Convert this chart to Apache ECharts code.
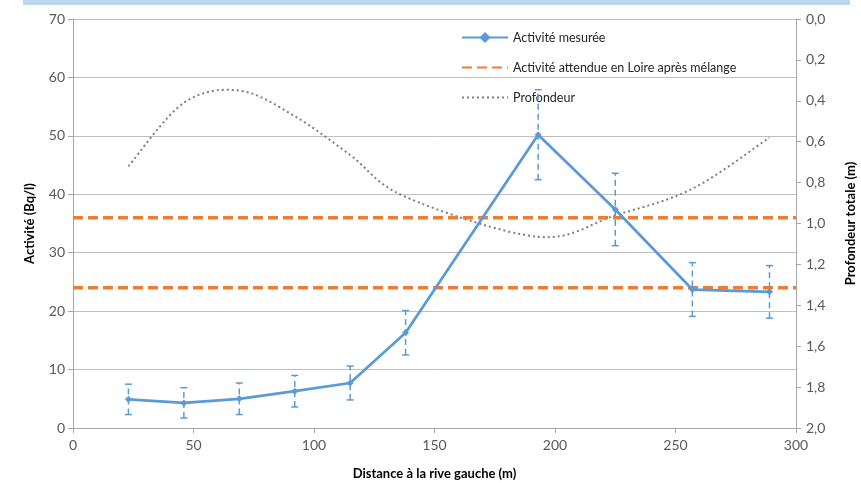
<!DOCTYPE html>
<html>
<head>
<meta charset="utf-8">
<script src="https://cdn.jsdelivr.net/npm/echarts@6/dist/echarts.min.js"></script>
<style>
html,body{margin:0;padding:0;background:#fff;}
#c{width:861px;height:483px;}
</style>
</head>
<body>
<div id="c"></div>
<script>
// ---- data ----
const distances = [23, 46, 69, 92, 115, 138, 193, 225, 257, 289];
const activity = [4.9, 4.3, 5.0, 6.3, 7.7, 16.3, 50.2, 37.4, 23.7, 23.3];
const activityErr = [2.6, 2.6, 2.7, 2.7, 2.9, 3.8, 7.7, 6.2, 4.6, 4.5];
const depth = [0.72, 0.41, 0.35, 0.475, 0.665, 0.87, 1.065, 0.96, 0.83, 0.58];
const expectedLevels = [36, 24];
const xRange = [0, 300];
const seriesNames = ['Activité mesurée', 'Activité attendue en Loire après mélange', 'Profondeur'];

// ---- build ----
const measured = distances.map((d, i) => [d, activity[i]]);
const errData = distances.map((d, i) => [d, activity[i] - activityErr[i], activity[i] + activityErr[i]]);
const expected = [];
expectedLevels.forEach((v, i) => {
  if (i > 0) expected.push([xRange[1], '-']);
  expected.push([xRange[0], v], [xRange[1], v]);
});
const depthData = distances.map((d, i) => [d, depth[i]]);

const BLUE = '#5B9BD5', ORANGE = '#ED7D31', GRAY = '#7F7F7F';
const FONT = 'Lato, "Liberation Sans", sans-serif';

// smoothed (Catmull-Rom style) path through the depth points, in pixel space from the axes
function smoothPath(pts) {
  let d = 'M' + pts[0][0] + ' ' + pts[0][1];
  for (let i = 0; i < pts.length - 1; i++) {
    const p0 = pts[Math.max(0, i - 1)], p1 = pts[i], p2 = pts[i + 1], p3 = pts[Math.min(pts.length - 1, i + 2)];
    const c1x = p1[0] + (p2[0] - p0[0]) / 6, c1y = p1[1] + (p2[1] - p0[1]) / 6;
    const c2x = p2[0] - (p3[0] - p1[0]) / 6, c2y = p2[1] - (p3[1] - p1[1]) / 6;
    d += ' C' + c1x + ' ' + c1y + ' ' + c2x + ' ' + c2y + ' ' + p2[0] + ' ' + p2[1];
  }
  return d;
}

const chart = echarts.init(document.getElementById('c'), null, {renderer: 'canvas'});
chart.setOption({
  animation: false,
  backgroundColor: '#fff',
  graphic: [{
    type: 'rect', left: 23, top: 0, shape: {width: 827, height: 5},
    style: {fill: '#BDD7EE'}, silent: true
  }],
  grid: {left: 73, right: 65, top: 19, bottom: 55, containLabel: false, outerBoundsMode: 'none'},
  legend: {
    orient: 'vertical', left: 456, top: 26, itemWidth: 46, itemHeight: 14, itemGap: 17,
    data: [
      {name: seriesNames[0]},
      {name: seriesNames[1], itemStyle: {opacity: 0}},
      {name: seriesNames[2], itemStyle: {opacity: 0}, lineStyle: {opacity: 1}}
    ],
    textStyle: {fontFamily: FONT, fontSize: 12.5, color: '#262626'}
  },
  xAxis: {
    type: 'value', min: 0, max: 300, interval: 50,
    name: 'Distance à la rive gauche (m)', nameLocation: 'middle', nameGap: 39,
    nameTextStyle: {fontFamily: FONT, fontWeight: 'bold', fontSize: 13, color: '#000'},
    axisLine: {show: true, onZero: false, lineStyle: {color: '#A6A6A6', width: 1}},
    axisTick: {show: true, length: 5, lineStyle: {color: '#A6A6A6'}},
    axisLabel: {fontFamily: FONT, fontSize: 14, color: '#595959', margin: 10},
    splitLine: {show: false}
  },
  yAxis: [{
    type: 'value', min: 0, max: 70, interval: 10,
    name: 'Activité (Bq/l)', nameLocation: 'middle', nameGap: 37,
    nameTextStyle: {fontFamily: FONT, fontWeight: 'bold', fontSize: 13, color: '#000'},
    axisLine: {show: true, lineStyle: {color: '#A6A6A6', width: 1}},
    axisTick: {show: true, length: 5, lineStyle: {color: '#A6A6A6'}},
    axisLabel: {fontFamily: FONT, fontSize: 14, color: '#595959', margin: 8},
    splitLine: {show: true, lineStyle: {color: '#BFBFBF', width: 1}}
  }, {
    type: 'value', min: 0, max: 2, interval: 0.2, inverse: true, position: 'right',
    name: 'Profondeur totale (m)', nameLocation: 'middle', nameGap: 48, nameRotate: 90,
    nameTextStyle: {fontFamily: FONT, fontWeight: 'bold', fontSize: 13, color: '#000'},
    axisLine: {show: true, lineStyle: {color: '#A6A6A6', width: 1}},
    axisTick: {show: true, length: 5, lineStyle: {color: '#A6A6A6'}},
    axisLabel: {fontFamily: FONT, fontSize: 14, color: '#595959', margin: 10,
      formatter: v => v.toFixed(1).replace('.', ',')},
    splitLine: {show: false}
  }],
  series: [{
    // legend entry + data holder for depth (line itself drawn smoothed by the custom series below)
    name: seriesNames[2], type: 'line', yAxisIndex: 1, data: depthData,
    symbol: 'none', silent: true,
    lineStyle: {color: GRAY, width: 2, type: [2, 3], opacity: 0},
    itemStyle: {color: GRAY}, z: 1
  }, {
    name: 'depthCurve', type: 'custom', yAxisIndex: 1, data: depthData, z: 2, silent: true,
    renderItem: function (params, api) {
      if (params.dataIndex !== 0) return null;
      const pts = depthData.map(p => api.coord(p));
      return {
        type: 'path',
        shape: {pathData: smoothPath(pts)},
        style: {fill: null, stroke: GRAY, lineWidth: 2, lineDash: [2, 3]}
      };
    }
  }, {
    name: seriesNames[1], type: 'line', yAxisIndex: 0, data: expected,
    symbol: 'none', connectNulls: false,
    lineStyle: {color: ORANGE, width: 3.5, type: [10, 5]},
    itemStyle: {color: ORANGE}, z: 3
  }, {
    name: 'err', type: 'custom', yAxisIndex: 0, data: errData, z: 4,
    renderItem: function (params, api) {
      const x = api.value(0);
      const lo = api.coord([x, api.value(1)]);
      const hi = api.coord([x, api.value(2)]);
      const w = 3.5;
      const st = {stroke: BLUE, lineWidth: 1.5};
      return {
        type: 'group', children: [
          {type: 'line', shape: {x1: lo[0], y1: lo[1], x2: hi[0], y2: hi[1]},
           style: {stroke: BLUE, lineWidth: 1.5, lineDash: [6, 4]}},
          {type: 'line', shape: {x1: hi[0] - w, y1: hi[1], x2: hi[0] + w, y2: hi[1]}, style: st},
          {type: 'line', shape: {x1: lo[0] - w, y1: lo[1], x2: lo[0] + w, y2: lo[1]}, style: st}
        ]
      };
    }
  }, {
    name: seriesNames[0], type: 'line', yAxisIndex: 0, data: measured,
    symbol: 'diamond', symbolSize: 7, showSymbol: true,
    lineStyle: {color: BLUE, width: 2.75},
    itemStyle: {color: BLUE}, z: 5
  }]
});
</script>
</body>
</html>
